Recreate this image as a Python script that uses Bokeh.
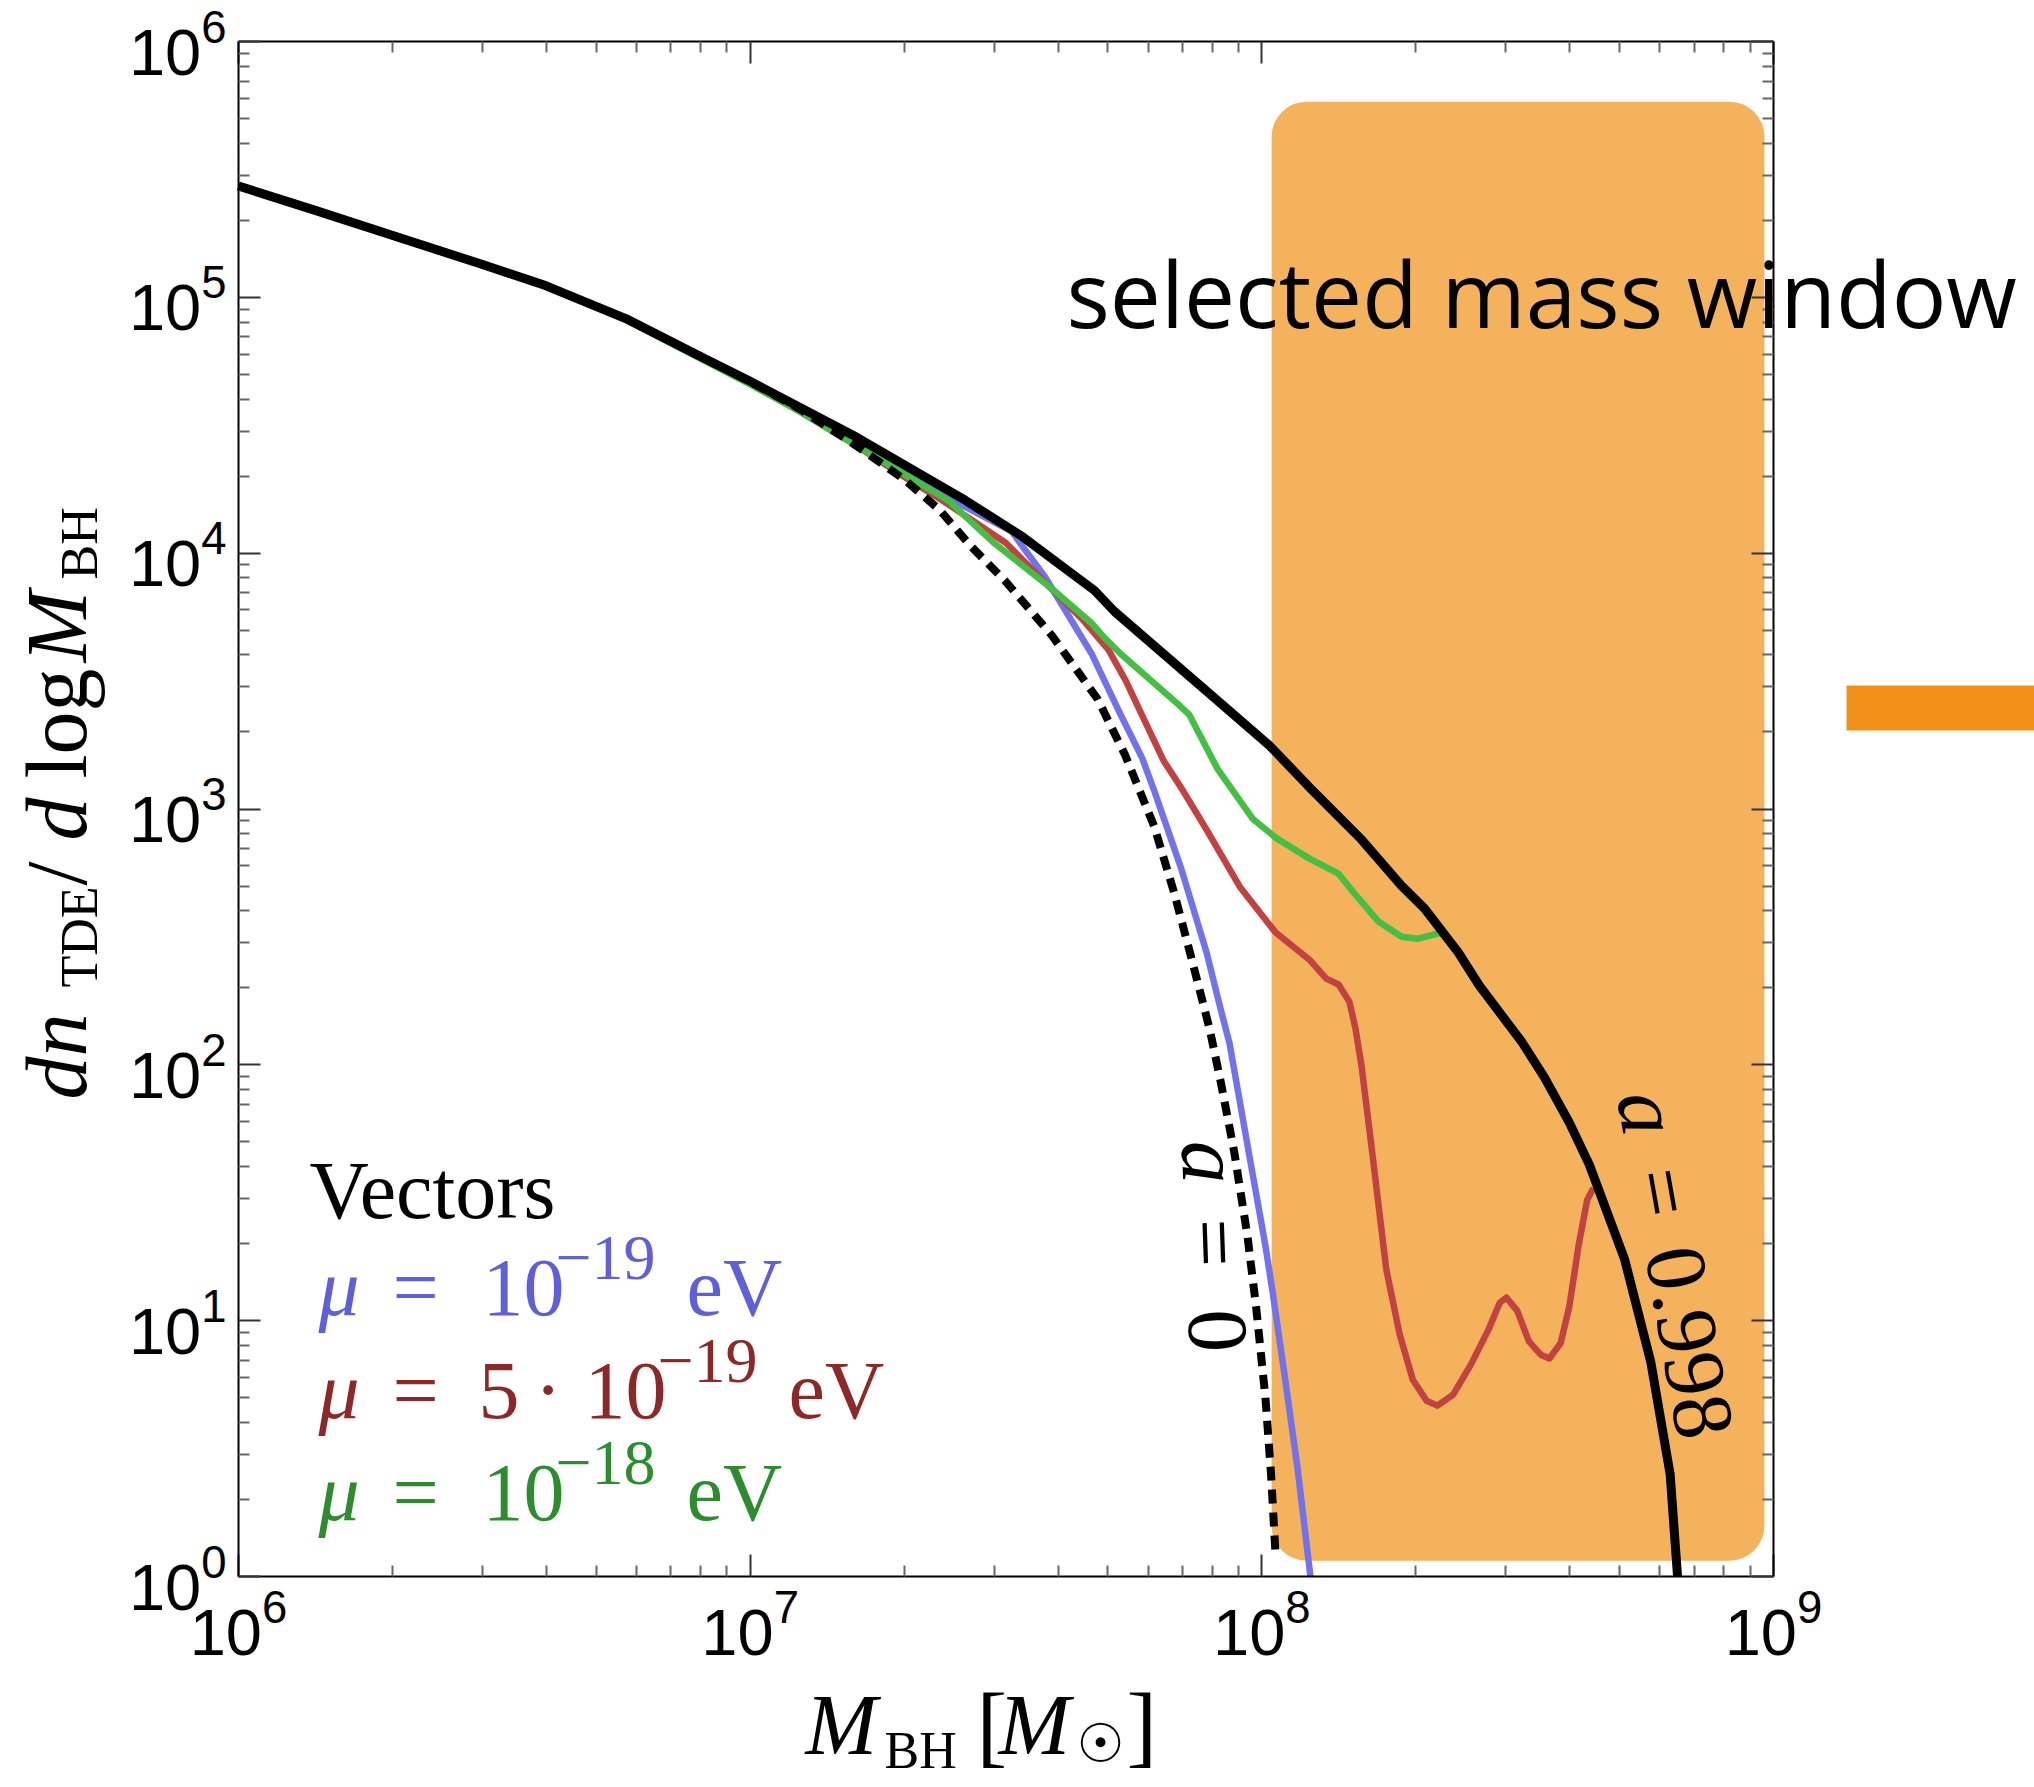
import numpy as np
from bokeh.plotting import figure
from bokeh.models import (LogAxis, FixedTicker, Label, Range1d, ColumnDataSource,
                          CustomJSTickFormatter)
from bokeh.embed import file_html
from bokeh.resources import INLINE

# ---------------- data (log10 of M_BH [M_sun] and of dn/dlogM) ----------------
logM_a998 = [6.0, 6.15, 6.3, 6.477, 6.6, 6.757, 6.903, 7.0, 7.2, 7.421, 7.532, 7.673, 7.712,
             7.859, 8.015, 8.0955, 8.195, 8.273, 8.318, 8.384, 8.425, 8.509, 8.552, 8.601,
             8.64, 8.709, 8.76, 8.798, 8.8125]
logN_a998 = [5.435, 5.34, 5.243, 5.128, 5.046, 4.917, 4.769, 4.672, 4.462, 4.206, 4.065, 3.854, 3.772,
             3.518, 3.248, 3.08, 2.880, 2.70, 2.611, 2.439, 2.31, 2.087, 1.952, 1.774,
             1.61, 1.24, 0.84, 0.40, 0.0]

logM_a0 = [6.0, 6.15, 6.3, 6.477, 6.6, 6.757, 6.903, 7.0, 7.1, 7.2, 7.3, 7.37, 7.43, 7.499, 7.589,
           7.679, 7.733, 7.79, 7.829, 7.862, 7.898, 7.92, 7.946, 7.972, 7.989, 8.007, 8.018, 8.027]
logN_a0 = [5.435, 5.34, 5.243, 5.128, 5.046, 4.917, 4.769, 4.670, 4.56, 4.43, 4.29, 4.17, 4.03, 3.89, 3.68,
           3.43, 3.21, 2.93, 2.67, 2.42, 2.14, 1.93, 1.66, 1.33, 1.05, 0.70, 0.40, 0.08]

logM_mu1e19 = [6.0, 6.15, 6.3, 6.477, 6.6, 6.757, 6.903, 7.0, 7.1, 7.2, 7.3, 7.397, 7.511, 7.577,
               7.667, 7.724, 7.766, 7.79, 7.842, 7.892, 7.918, 7.937, 7.969, 8.007, 8.021, 8.045,
               8.07, 8.095]
logN_mu1e19 = [5.435, 5.34, 5.243, 5.128, 5.046, 4.915, 4.764, 4.665, 4.555, 4.44, 4.32, 4.206, 4.085, 3.905,
               3.608, 3.369, 3.20, 3.07, 2.77, 2.439, 2.23, 2.083, 1.72, 1.293, 1.113, 0.78,
               0.42, 0.0]

logM_mu5e19 = [6.0, 6.15, 6.3, 6.477, 6.6, 6.757, 6.903, 7.0, 7.1, 7.2, 7.3, 7.376, 7.5, 7.589, 7.65,
               7.7, 7.734, 7.769, 7.808, 7.847, 7.892, 7.958, 8.027, 8.093, 8.126, 8.15, 8.171,
               8.183, 8.195, 8.216, 8.243, 8.269, 8.295, 8.322, 8.343, 8.374, 8.409, 8.443, 8.465,
               8.478, 8.499, 8.522, 8.545, 8.562, 8.584, 8.601, 8.619, 8.636, 8.648]
logN_mu5e19 = [5.435, 5.34, 5.243, 5.128, 5.046, 4.915, 4.764, 4.663, 4.55, 4.43, 4.30, 4.206, 4.04, 3.86, 3.74,
               3.623, 3.502, 3.353, 3.189, 3.068, 2.919, 2.693, 2.517, 2.411, 2.337, 2.314, 2.247,
               2.142, 1.993, 1.653, 1.203, 0.949, 0.769, 0.687, 0.668, 0.711, 0.830, 0.965, 1.070,
               1.090, 1.039, 0.919, 0.867, 0.852, 0.912, 1.055, 1.293, 1.473, 1.518]

logM_mu1e18 = [6.0, 6.15, 6.3, 6.477, 6.6, 6.757, 6.903, 7.0, 7.1, 7.2, 7.3, 7.387, 7.476, 7.589,
               7.667, 7.694, 7.724, 7.835, 7.858, 7.913, 7.982, 8.027, 8.093, 8.15, 8.183, 8.228,
               8.273, 8.306, 8.351, 8.37]
logN_mu1e18 = [5.435, 5.34, 5.243, 5.128, 5.046, 4.912, 4.760, 4.66, 4.55, 4.43, 4.31, 4.206, 4.041, 3.862,
               3.727, 3.666, 3.607, 3.412, 3.369, 3.158, 2.962, 2.888, 2.806, 2.747, 2.665, 2.560,
               2.501, 2.493, 2.517, 2.476]

window_M = [1.045e8, 9.6e8]      # selected mass window (left, right)
window_n = [1.153, 5.82e5]       # vertical extent of the shaded box

x_ticks = [1e6, 1e7, 1e8, 1e9]
y_ticks = [1e0, 1e1, 1e2, 1e3, 1e4, 1e5, 1e6]
x_bounds = (1e6, 1e9)
y_bounds = (1e0, 1e6)

# ---------------- layout: frame = whole canvas, axes at fixed data locations ----------------
W, H = 2034, 1787
FL, FR, FT, FB = 238, 1773, 41, 1576          # pixel box of the axes
DX = (FR - FL) / 3.0                          # pixels per decade in x
DY = (FB - FT) / 6.0                          # pixels per decade in y

p = figure(width=W, height=H, x_axis_type="log", y_axis_type="log",
           x_axis_location=None, y_axis_location=None,
           x_range=Range1d(10 ** (6 - FL / DX), 10 ** (6 + (W - FL) / DX)),
           y_range=Range1d(10 ** (6 - (H - FT) / DY), 10 ** (6 + FT / DY)),
           output_backend="svg", toolbar_location=None, min_border=0)
p.min_border_left = p.min_border_right = p.min_border_top = p.min_border_bottom = 0
p.grid.visible = False
p.outline_line_color = None
p.background_fill_color = "white"
p.border_fill_color = "white"

x_minor = [m * 10 ** e for e in (6, 7, 8) for m in range(2, 10)]
y_minor = [m * 10 ** e for e in range(0, 6) for m in range(2, 10)]


def make_axis(labels, ticks, minor, loc, bounds):
    ax = LogAxis(fixed_location=loc, bounds=bounds)
    ax.ticker = FixedTicker(ticks=ticks, minor_ticks=minor)
    ax.axis_line_width = 2
    ax.axis_line_color = "black"
    ax.major_tick_in = 22
    ax.major_tick_out = 0
    ax.minor_tick_in = 11
    ax.minor_tick_out = 0
    ax.major_tick_line_width = 2
    ax.major_tick_line_color = "#333333"
    ax.minor_tick_line_width = 2
    ax.minor_tick_line_color = "#666666"
    ax.major_label_text_font = "Liberation Sans"
    ax.major_label_text_color = "black"
    ax.major_label_text_font_size = "65px"
    if labels:
        ax.major_label_standoff = 12
    else:
        ax.formatter = CustomJSTickFormatter(code="return ''")
        ax.major_label_standoff = 0
    return ax


p.add_layout(make_axis(True, x_ticks, x_minor, y_bounds[0], x_bounds), "below")
p.add_layout(make_axis(False, x_ticks, x_minor, y_bounds[1], x_bounds), "above")
p.add_layout(make_axis(True, y_ticks, y_minor, x_bounds[0], y_bounds), "left")
p.add_layout(make_axis(False, y_ticks, y_minor, x_bounds[1], y_bounds), "right")


def X(px):
    return 10 ** (6 + (px - FL) / DX)


def Y(py):
    return 10 ** (6 - (py - FT) / DY)


# ---------------- shaded window ----------------
p.quad(left=[window_M[0]], right=[window_M[1]], bottom=[window_n[0]], top=[window_n[1]],
       fill_color="#F4B25D", line_color=None, border_radius=35)

# orange marker at the right edge of the page (belongs to the neighbouring panel)
p.quad(left=[X(1846)], right=[X(2060)], bottom=[Y(730)], top=[Y(685)],
       fill_color="#F2911A", line_color=None)

# ---------------- curves ----------------
def src(lm, ln):
    return ColumnDataSource(dict(x=10 ** np.array(lm), y=10 ** np.array(ln)))

p.line("x", "y", source=src(logM_mu1e19, logN_mu1e19), line_color="#7272EA", line_width=6.5,
       line_join="round")
p.line("x", "y", source=src(logM_mu5e19, logN_mu5e19), line_color="#C24242", line_width=6.5,
       line_join="round")
p.line("x", "y", source=src(logM_mu1e18, logN_mu1e18), line_color="#44BF44", line_width=6.5,
       line_join="round")
p.line("x", "y", source=src(logM_a0, logN_a0), line_color="black", line_width=8, line_dash="14 9")
p.line("x", "y", source=src(logM_a998, logN_a998), line_color="black", line_width=9,
       line_join="round")

# ---------------- text helpers (pixel positions on the canvas) ----------------
BASE_FIX = 0.34   # Bokeh places the alphabetic baseline lower by ~this fraction of the size


def run(pieces, sx, sy, phi_deg, color="black"):
    # phi: clockwise screen angle of the writing direction; pieces: text, font, style, size, advance, shift
    phi = np.deg2rad(phi_deg)
    ux, uy = np.cos(phi), np.sin(phi)
    upx, upy = uy, -ux
    for text, font, style_, size, adv, shift in pieces:
        sh = shift + BASE_FIX * size
        px = sx + ux * adv + upx * sh
        py = sy + uy * adv + upy * sh
        p.add_layout(Label(x=X(px), y=Y(py), text=text, text_font=font,
                           text_font_size=f"{size}px", text_font_style=style_,
                           text_color=color, angle=float(-phi), text_align="left",
                           text_baseline="alphabetic"))


SERIF = "Liberation Serif"


def hline(pieces, sx, base, color="black"):
    run([(t, f, s, z, x - sx, sh) for (t, f, s, z, x, sh) in pieces], sx, base, 0.0, color)


# selected mass window
hline([("selected mass window", "Open Sans", "normal", 91, 1066, 0)], 1066, 323)

# legend
hline([("Vectors", SERIF, "normal", 82, 309, 0)], 309, 1218)
BLUE, RED, GREEN = "#5F5FD8", "#8C2828", "#2D8C2D"
SUP = 36
hline([("\u03bc", SERIF, "italic", 82, 318, 0), ("=", SERIF, "normal", 82, 392, 0),
       ("10", SERIF, "normal", 82, 482, 0), ("\u221219", SERIF, "normal", 64, 555, SUP),
       ("eV", SERIF, "normal", 82, 686, 0)], 318, 1315, BLUE)
hline([("\u03bc", SERIF, "italic", 82, 318, 0), ("=", SERIF, "normal", 82, 392, 0),
       ("5", SERIF, "normal", 82, 478, 0), ("\u00b7", SERIF, "normal", 82, 534, 0),
       ("10", SERIF, "normal", 82, 584, 0), ("\u221219", SERIF, "normal", 64, 657, SUP),
       ("eV", SERIF, "normal", 82, 788, 0)], 318, 1418, RED)
hline([("\u03bc", SERIF, "italic", 82, 318, 0), ("=", SERIF, "normal", 82, 392, 0),
       ("10", SERIF, "normal", 82, 482, 0), ("\u221218", SERIF, "normal", 64, 555, SUP),
       ("eV", SERIF, "normal", 82, 686, 0)], 318, 1520, GREEN)

# spin labels along the curves
run([("a", SERIF, "italic", 86, 0, 0), ("=", SERIF, "normal", 86, 78, 0),
     ("0", SERIF, "normal", 86, 169, 0)], 1181, 1141, 88)
run([("a", SERIF, "italic", 86, 0, 0), ("=", SERIF, "normal", 86, 78, 0),
     ("0.998", SERIF, "normal", 86, 158, 0)], 1616, 1096, 80)

# x-axis label
hline([("M", SERIF, "italic", 86, 805, 0), ("BH", SERIF, "normal", 52, 884, -14),
       ("[", SERIF, "normal", 92, 976, -2), ("M", SERIF, "italic", 86, 998, 0),
       ("\u2609", "DejaVu Sans", "normal", 54, 1076, -7), ("]", SERIF, "normal", 92, 1126, -2)],
      805, 1754)

# y-axis label (rotated, reading upwards)
run([("dn", SERIF, "italic", 86, 0, 0), ("TDE", SERIF, "normal", 52, 112, -11),
     ("/", SERIF, "normal", 86, 214, 0), ("d", SERIF, "italic", 86, 259, 0),
     ("log", SERIF, "normal", 86, 321, 0), ("M", SERIF, "italic", 86, 437, 0),
     ("BH", SERIF, "normal", 52, 520, -11)], 86, 1099, -90)

open("out.html", "w").write(file_html(p, INLINE))
